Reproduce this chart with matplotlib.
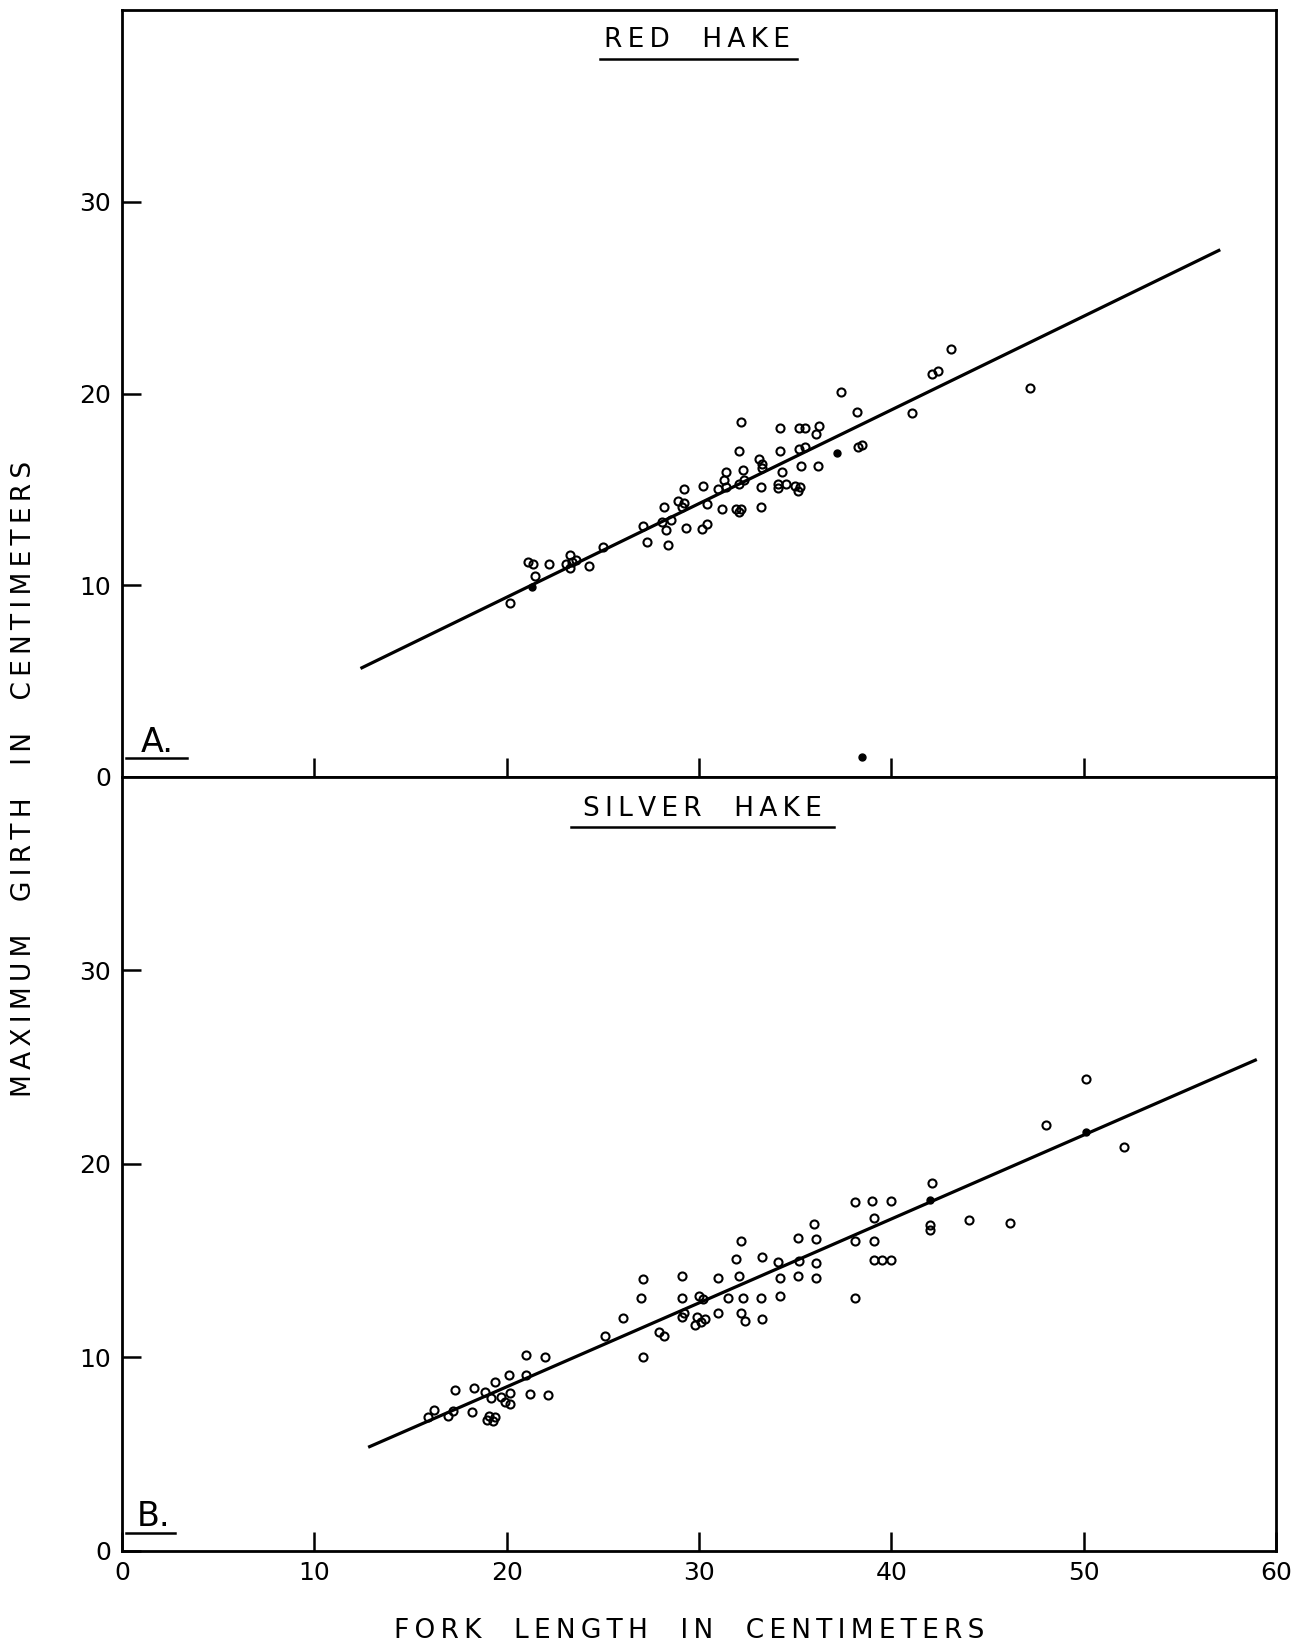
import matplotlib
matplotlib.use("Agg")
import matplotlib.pyplot as plt
from matplotlib.lines import Line2D

plt.rcParams['font.family'] = ['DejaVu Sans']

# ---------------- data ----------------
# Panel A: red hake (fork length cm, maximum girth cm)
red_x = [20.2, 21.45, 21.1, 21.35, 22.2, 23.3, 23.1, 23.4, 23.6, 23.3, 24.3, 25.0,
         27.1, 27.3, 28.1, 28.2, 28.3, 28.4, 28.55, 28.9, 29.2, 29.1, 29.2, 29.3,
         30.15, 30.4, 30.2, 30.4, 31.0, 31.4, 31.4, 31.3, 31.2, 31.9, 32.2, 32.1,
         32.1, 32.35, 32.3, 32.1, 32.2, 33.1, 33.25, 33.3, 33.2, 33.2, 34.2, 34.2,
         34.3, 34.1, 34.1, 34.5, 35.0, 35.25, 35.15, 35.2, 35.5, 35.2, 35.5, 35.3,
         36.25, 36.1, 36.2, 37.4, 38.2, 38.5, 38.25, 41.1, 42.1, 42.4, 43.1, 47.2]
red_y = [9.08, 10.5, 11.2, 11.1, 11.1, 11.6, 11.1, 11.2, 11.3, 10.9, 11.0, 12.0,
         13.1, 12.25, 13.3, 14.1, 12.9, 12.1, 13.4, 14.4, 14.3, 14.1, 15.0, 13.0,
         12.95, 13.2, 15.2, 14.25, 15.0, 15.15, 15.9, 15.5, 14.0, 14.0, 14.0, 13.8,
         15.3, 15.5, 16.0, 17.0, 18.5, 16.6, 16.3, 16.1, 15.1, 14.1, 18.2, 17.0,
         15.9, 15.3, 15.05, 15.3, 15.2, 15.1, 14.9, 17.1, 17.2, 18.2, 18.2, 16.2,
         18.3, 17.9, 16.2, 20.1, 19.06, 17.3, 17.2, 19.0, 21.0, 21.2, 22.3, 20.3]
red_solid_x = [21.3, 37.2, 38.5]
red_solid_y = [9.9, 16.9, 1.05]
red_line_x = [12.4, 57.1]
red_line_y = [5.66, 27.5]

# Panel B: silver hake
silver_x = [16.2, 15.9, 16.95, 17.2, 17.3, 18.3, 18.2, 18.9, 19.4, 19.2, 19.1, 19.4,
            19.0, 19.3, 19.7, 20.1, 20.2, 19.9, 20.2, 21.0, 21.2, 21.0, 22.0, 22.15,
            25.1, 26.05, 27.1, 27.1, 27.0, 27.9, 28.2, 29.1, 29.1, 29.2, 29.1, 29.9,
            30.1, 29.8, 30.3, 30.0, 30.2, 31.0, 31.0, 31.5, 32.1, 32.3, 32.2, 32.4,
            33.2, 33.25, 31.9, 33.25, 32.2, 34.2, 34.2, 34.1, 35.15, 35.2, 35.15, 36.1,
            36.1, 36.1, 36.0, 38.1, 39.0, 40.0, 39.1, 38.1, 39.1, 39.1, 39.5, 40.0,
            38.1, 42.1, 42.0, 42.0, 44.06, 46.15, 48.05, 50.1, 52.1]
silver_y = [7.29, 6.9, 7.0, 7.25, 8.3, 8.4, 7.2, 8.2, 8.75, 7.9, 7.0, 6.95,
            6.75, 6.7, 7.97, 9.1, 8.15, 7.7, 7.6, 9.1, 8.1, 10.15, 10.0, 8.06,
            11.1, 12.06, 10.05, 14.04, 13.1, 11.3, 11.1, 14.2, 13.1, 12.3, 12.1, 12.1,
            11.85, 11.7, 12.0, 13.2, 13.0, 14.1, 12.3, 13.06, 14.2, 13.1, 12.3, 11.9,
            13.1, 12.0, 15.1, 15.2, 16.0, 14.1, 13.2, 14.95, 14.2, 15.0, 16.2, 16.1,
            14.9, 14.1, 16.9, 18.05, 18.1, 18.1, 17.2, 16.0, 16.0, 15.04, 15.04, 15.04,
            13.06, 19.0, 16.85, 16.6, 17.1, 16.97, 22.0, 24.4, 20.9]
silver_solid_x = [42.0, 50.1]
silver_solid_y = [18.15, 21.65]
silver_line_x = [12.8, 59.0]
silver_line_y = [5.36, 25.4]

x_ticks = [10, 20, 30, 40, 50]
x_labels_vals = [0, 10, 20, 30, 40, 50, 60]
y_ticks = [0, 10, 20, 30]

# ---------------- figure ----------------
W, H = 1303, 1650
fig = plt.figure(figsize=(W / 100, H / 100), dpi=100)

def fx(px):
    return px / W

def fy(py):
    return 1 - py / H

def spaced(s):
    return '\u2009'.join(s)

ax1 = fig.add_axes([0.0936, 0.5291, 0.8857, 0.4648])
ax2 = fig.add_axes([0.0936, 0.0600, 0.8857, 0.4691])

mk = dict(linestyle='none', marker='o', mfc='none', mec='black', ms=5.8, mew=1.5)

for ax in (ax1, ax2):
    ax.set_xlim(0, 60)
    ax.set_ylim(0, 40)
    for sp in ax.spines.values():
        sp.set_linewidth(2.0)
    ax.tick_params(axis='both', direction='in', length=14, width=1.8,
                   labelsize=18, pad=8, top=False, right=False)
    ax.set_yticks(y_ticks)
    ax.set_yticklabels([str(v) for v in y_ticks])

ax1.set_xticks(x_ticks)
ax1.tick_params(axis='x', labelbottom=False)
ax2.set_xticks(x_labels_vals)
ax2.set_xticklabels([str(v) for v in x_labels_vals])
ax2.tick_params(axis='x', pad=7)

# Panel A
ax1.plot(red_line_x, red_line_y, color='black', lw=2.3, solid_capstyle='butt')
ax1.plot(red_x, red_y, **mk)
ax1.plot(red_solid_x, red_solid_y, linestyle='none', marker='o', color='black', ms=5)

# Panel B
ax2.plot(silver_line_x, silver_line_y, color='black', lw=2.3, solid_capstyle='butt')
ax2.plot(silver_x, silver_y, **mk)
ax2.plot(silver_solid_x, silver_solid_y, linestyle='none', marker='o', color='black', ms=5)

# Titles and panel letters
fig.text(fx(697), fy(40), spaced('RED  HAKE'), ha='center', va='center', fontsize=19)
fig.add_artist(Line2D([fx(600), fx(797)], [fy(59), fy(59)], color='black', lw=1.8))
fig.text(fx(702), fy(809), spaced('SILVER  HAKE'), ha='center', va='center', fontsize=19)
fig.add_artist(Line2D([fx(571), fx(834)], [fy(827), fy(827)], color='black', lw=1.8))

fig.text(fx(141), fy(742), 'A.', ha='left', va='center', fontsize=24)
fig.add_artist(Line2D([fx(126), fx(187)], [fy(758), fy(758)], color='black', lw=1.8))
fig.text(fx(137), fy(1516), 'B.', ha='left', va='center', fontsize=24)
fig.add_artist(Line2D([fx(126), fx(175)], [fy(1533), fy(1533)], color='black', lw=1.8))

# Axis labels
fig.text(fx(24), fy(779), spaced('MAXIMUM  GIRTH  IN  CENTIMETERS'), rotation=90,
         ha='center', va='center', fontsize=19)
fig.text(fx(689), fy(1631), spaced('FORK  LENGTH  IN  CENTIMETERS'),
         ha='center', va='center', fontsize=19)

fig.savefig('out.png', dpi=100, facecolor='white')
